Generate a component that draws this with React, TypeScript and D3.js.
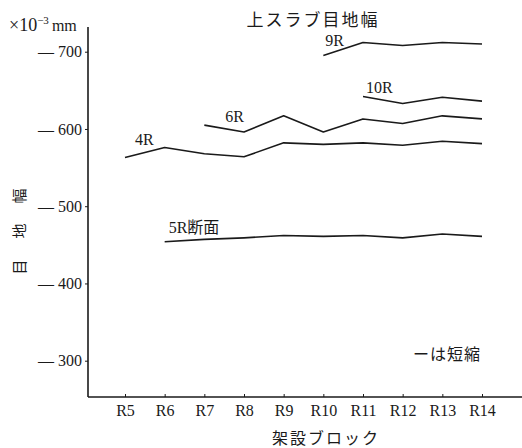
import React, { useRef, useEffect } from "react"
import * as d3 from "d3"

// 架設ブロック
const blocks = ["R5", "R6", "R7", "R8", "R9", "R10", "R11", "R12", "R13", "R14"]

// 目地幅 (x10^-3 mm, shown as shrinkage) per block, null = no measurement
const series4R = [563, 576, 568, 564, 582, 580, 582, 579, 584, 581]
const series6R = [null, null, 605, 596, 617, 596, 613, 607, 617, 613]
const series9R = [null, null, null, null, null, 695, 712, 708, 712, 710]
const series10R = [null, null, null, null, null, null, 642, 633, 641, 636]
const series5R = [null, 454, 457, 459, 462, 461, 462, 459, 464, 461]

const yTicks = [300, 400, 500, 600, 700]

const seriesNames = ["4R", "6R", "9R", "10R", "5R断面"]
const seriesValues = [series4R, series6R, series9R, series10R, series5R]
// label offset from the first point of each line
const labelOffsets = [
  [10, -13],
  [21, -3],
  [2, -10],
  [3, -4],
  [4, -9],
]

const FONT = "'Liberation Serif', 'Noto Sans CJK JP', serif"
const INK = "#1a1a1a"

function App() {
  const ref = useRef(null)
  const width = 522,
    height = 448

  useEffect(() => {
    const svg = d3.select(ref.current)
    svg.selectAll("*").remove()

    const x = d3.scalePoint().domain(blocks).range([125, 482])
    const y = d3.scaleLinear().domain([253, 732]).range([397, 27])
    const axisX = 88

    // axes lines
    svg
      .append("line")
      .attr("x1", axisX)
      .attr("x2", axisX)
      .attr("y1", y(732))
      .attr("y2", y(253))
      .attr("stroke", INK)
      .attr("stroke-width", 1.6)
    svg
      .append("line")
      .attr("x1", axisX)
      .attr("x2", width)
      .attr("y1", y(253))
      .attr("y2", y(253))
      .attr("stroke", INK)
      .attr("stroke-width", 1.6)

    const yAxis = svg
      .append("g")
      .attr("transform", `translate(${axisX},0)`)
      .call(
        d3
          .axisLeft(y)
          .tickValues(yTicks)
          .tickSize(3)
          .tickPadding(3)
          .tickFormat(d => "— " + d)
      )
    yAxis.select(".domain").remove()
    yAxis
      .selectAll("text")
      .style("font-family", FONT)
      .style("font-size", "16px")
      .attr("fill", INK)
    yAxis.selectAll("line").attr("stroke", INK)

    const xAxis = svg
      .append("g")
      .attr("transform", `translate(0,${y(253)})`)
      .call(d3.axisBottom(x).tickSize(-3).tickPadding(8))
    xAxis.select(".domain").remove()
    xAxis
      .selectAll("text")
      .style("font-family", FONT)
      .style("font-size", "16px")
      .attr("fill", INK)
    xAxis.selectAll("line").attr("stroke", INK)

    const line = d3
      .line()
      .defined(d => d[1] !== null)
      .x(d => x(d[0]))
      .y(d => y(d[1]))

    seriesValues.forEach((vals, i) => {
      const pts = blocks.map((b, j) => [b, vals[j]])
      svg
        .append("path")
        .attr("d", line(pts))
        .attr("fill", "none")
        .attr("stroke", INK)
        .attr("stroke-width", 1.6)
        .attr("stroke-linejoin", "round")
      const first = pts.find(p => p[1] !== null)
      svg
        .append("text")
        .attr("x", x(first[0]) + labelOffsets[i][0])
        .attr("y", y(first[1]) + labelOffsets[i][1])
        .style("font-family", FONT)
        .style("font-size", "16px")
        .attr("fill", INK)
        .text(seriesNames[i])
    })

    // title / unit / notes
    svg
      .append("text")
      .attr("x", 313)
      .attr("y", 26)
      .attr("text-anchor", "middle")
      .style("font-family", FONT)
      .style("font-size", "17px")
      .style("letter-spacing", "2px")
      .attr("fill", INK)
      .text("上スラブ目地幅")

    const unit = svg
      .append("text")
      .attr("x", 9)
      .attr("y", 31)
      .style("font-family", FONT)
      .style("font-size", "18px")
      .attr("fill", INK)
    unit.append("tspan").text("×10")
    unit
      .append("tspan")
      .attr("dy", -7)
      .style("font-size", "11px")
      .text("−3")
    unit
      .append("tspan")
      .attr("dy", 7)
      .attr("dx", 3)
      .style("font-size", "16px")
      .text("mm")

    const yLabel = ["目", "地", "幅"]
    const yLabelPos = [267, 231, 196]
    yLabel.forEach((ch, i) => {
      svg
        .append("text")
        .attr("transform", `translate(19.5,${yLabelPos[i]}) rotate(-90)`)
        .attr("text-anchor", "middle")
        .attr("dy", "0.35em")
        .style("font-family", FONT)
        .style("font-size", "15px")
        .attr("fill", INK)
        .text(ch)
    })

    svg
      .append("text")
      .attr("x", 326)
      .attr("y", 444)
      .attr("text-anchor", "middle")
      .style("font-family", FONT)
      .style("font-size", "16px")
      .style("letter-spacing", "2px")
      .attr("fill", INK)
      .text("架設ブロック")

    svg
      .append("text")
      .attr("x", 413)
      .attr("y", 360)
      .style("font-family", FONT)
      .style("font-size", "16px")
      .style("letter-spacing", "1px")
      .attr("fill", INK)
      .text("ーは短縮")
  }, [])

  return (
    <svg
      ref={ref}
      width={width}
      height={height}
      style={{ position: "absolute", left: 0, top: 0, background: "#fff" }}
    />
  )
}

export default App
